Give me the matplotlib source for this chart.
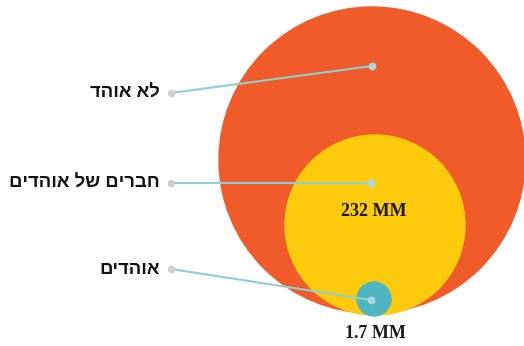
import matplotlib.pyplot as plt
from matplotlib.patches import Circle

# groups, outermost first
labels = ["לא אוהד", "חברים של אוהדים", "אוהדים"]
value_text = [None, "232 MM", "1.7 MM"]
radii = [153, 90, 17]
colors = ["#F15A29", "#FDCB0B", "#4DB6C0"]


def rtl(s):
    # matplotlib has no bidi support, so flip hebrew for display
    return s[::-1]


fig = plt.figure(figsize=(5.24, 3.46), dpi=100)
ax = fig.add_axes([0, 0, 1, 1])
ax.set_xlim(0, 524)
ax.set_ylim(346, 0)
ax.set_aspect("equal")
ax.axis("off")

centers = [(372, 160), (375, 225), (374, 299)]
anchors = [(372, 66), (371, 183), (371, 300)]
label_y = [93, 183, 269]

for i in range(len(labels)):
    ax.add_patch(Circle(centers[i], radii[i], color=colors[i], zorder=i + 1))

for i in range(len(labels)):
    ax.plot([171, anchors[i][0]], [label_y[i], anchors[i][1]],
            color="#8FD0D2", lw=1.5, zorder=5, solid_capstyle="round")
    ax.scatter([171], [label_y[i]], s=30, color="#CFCFCF", zorder=6, lw=0)
    ax.scatter([anchors[i][0]], [anchors[i][1]], s=32, color="#A9D9DC", zorder=6, lw=0)
    ax.text(160, label_y[i], rtl(labels[i]), ha="right", va="center",
            fontsize=13.3, fontweight="bold", family="Liberation Sans", color="#111111")

ax.text(374, 211, value_text[1], ha="center", va="center", fontsize=13,
        fontweight="bold", family="Liberation Serif", color="#1a1a1a", zorder=7)
ax.text(375, 334, value_text[2], ha="center", va="center", fontsize=13,
        fontweight="bold", family="Liberation Serif", color="#1a1a1a", zorder=7)

fig.savefig("out.png", dpi=100, facecolor="white")
